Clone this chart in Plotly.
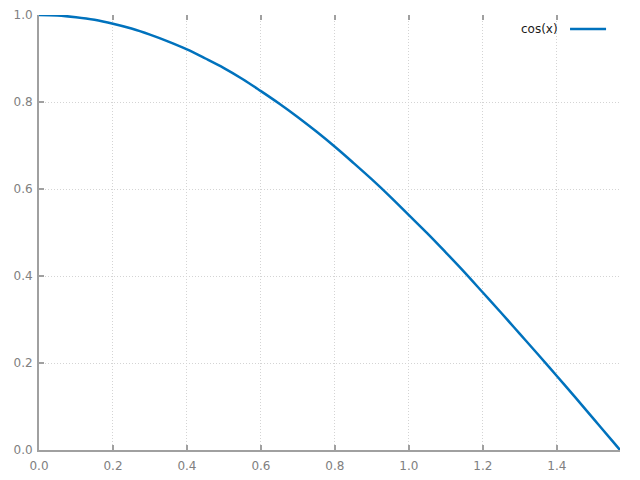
import plotly.graph_objects as go

x_vals = [0.0, 0.05, 0.1, 0.15, 0.2, 0.25, 0.3, 0.35, 0.4, 0.45, 0.5, 0.55, 0.6, 0.65, 0.7,
          0.75, 0.8, 0.85, 0.9, 0.95, 1.0, 1.05, 1.1, 1.15, 1.2, 1.25, 1.3, 1.35, 1.4, 1.45,
          1.5, 1.55, 1.5708]
y_vals = [1.000, 0.999, 0.995, 0.989, 0.980, 0.969, 0.955, 0.939, 0.921, 0.900, 0.878, 0.853,
          0.825, 0.796, 0.765, 0.732, 0.697, 0.660, 0.622, 0.582, 0.540, 0.498, 0.454, 0.409,
          0.362, 0.315, 0.267, 0.219, 0.170, 0.121, 0.071, 0.021, 0.000]
series_name = "cos(x)"
x_ticks = [0.0, 0.2, 0.4, 0.6, 0.8, 1.0, 1.2, 1.4]
y_ticks = [0.0, 0.2, 0.4, 0.6, 0.8, 1.0]

line_color = "#0072bd"
axis_color = "#a0a0a0"
grid_color = "#d4d4d4"
font_family = "DejaVu Sans"
x_range = [0, 1.5708]

fig = go.Figure()
fig.add_trace(go.Scatter(x=x_vals, y=y_vals, mode="lines", name=series_name,
                         line=dict(color=line_color, width=2.5, shape="spline"),
                         showlegend=False))
# invisible companion trace so the mirrored top tick axis gets drawn
fig.add_trace(go.Scatter(x=x_vals, y=y_vals, mode="lines", xaxis="x2",
                         line=dict(color="rgba(0,0,0,0)", width=0),
                         showlegend=False, hoverinfo="skip"))

# gnuplot-style key: text on left, sample on right
fig.add_annotation(xref="paper", yref="paper", x=0.897, y=0.968, text=series_name,
                   showarrow=False, xanchor="right", yanchor="middle",
                   font=dict(family=font_family, size=12, color="#1a1a1a"))
fig.add_shape(type="line", xref="paper", yref="paper", x0=0.914, x1=0.976, y0=0.968, y1=0.968,
              line=dict(color=line_color, width=2.5))

axis_common = dict(
    showline=True, linecolor=axis_color, linewidth=2, automargin=False,
    ticks="inside", ticklen=5, tickwidth=1.5, tickcolor=axis_color,
    showgrid=True, gridcolor=grid_color, griddash="1px,2px", gridwidth=1,
    zeroline=False, tickformat=".1f",
    tickfont=dict(family=font_family, size=12, color="#808080"),
)

fig.update_xaxes(range=x_range, tickvals=x_ticks, ticklabelstandoff=4, **axis_common)
fig.update_yaxes(range=[0, 1.0], tickvals=y_ticks, ticklabelstandoff=2, **axis_common)

fig.update_layout(
    xaxis2=dict(overlaying="x", side="top", range=x_range, tickvals=x_ticks, automargin=False,
                showline=False, showgrid=False, zeroline=False, showticklabels=False,
                ticks="inside", ticklen=5, tickwidth=1.5, tickcolor=axis_color),
    width=632, height=472,
    margin=dict(l=31, r=20, t=7, b=30),
    paper_bgcolor="white", plot_bgcolor="white",
    font=dict(family=font_family),
)

fig.write_html("out.html")
